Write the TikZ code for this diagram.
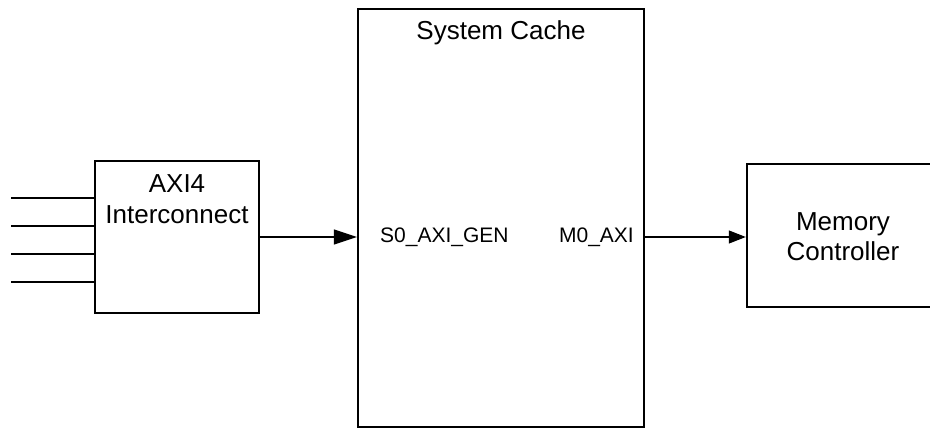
\documentclass[tikz,border=0pt]{standalone}
\usepackage{fontspec}
\setmainfont{Liberation Sans}
\usetikzlibrary{arrows.meta}
\tikzset{
  blockbox/.style={draw=black, line width=2.4pt, fill=white, inner sep=0pt},
  bigtext/.style={font=\fontsize{26}{31}\selectfont, inner sep=0pt},
  porttext/.style={font=\fontsize{21}{25}\selectfont, inner sep=0pt},
  wire/.style={line width=1.2pt},
  bigarrow/.style={wire, -{Triangle[length=23pt,width=15pt]}},
  smallarrow/.style={wire, -{Triangle[length=17pt,width=13pt]}}
}
\begin{document}
\begin{tikzpicture}[x=1pt,y=-1pt]
\useasboundingbox (0,0) rectangle (930,428);
% boxes
\node[blockbox, minimum width=286pt, minimum height=418pt] (cache) at (501,218) {};
\node[blockbox, minimum width=164pt, minimum height=152pt] (axi) at (177,237) {};
\node[blockbox, minimum width=190pt, minimum height=143pt] (mem) at (842,235.5) {};
% texts
\node[bigtext, anchor=base] (cachet) at (501,40) {System Cache};
\node[bigtext, anchor=base] (axit1) at (177,192) {AXI4};
\node[bigtext, anchor=base] (axit2) at (177,223) {Interconnect};
\node[bigtext, anchor=base] (memt1) at (843,230) {Memory};
\node[bigtext, anchor=base] (memt2) at (843,260) {Controller};
\node[porttext, anchor=base west] (s0) at (380,242) {S0\_AXI\_GEN};
\node[porttext, anchor=base east] (m0) at (634,242) {M0\_AXI};
% input wires
\coordinate (in1) at (11,198);
\coordinate (in2) at (11,226);
\coordinate (in3) at (11,254);
\coordinate (in4) at (11,282);
\foreach \i in {1,...,4}{
  \draw[wire] (in\i) -- (in\i -| axi.west);
}
% arrows
\draw[bigarrow] (axi.east) -- (axi.east -| cache.west);
\draw[smallarrow] (cache.east |- 0,237) -- (mem.west |- 0,237);
\end{tikzpicture}
\end{document}
